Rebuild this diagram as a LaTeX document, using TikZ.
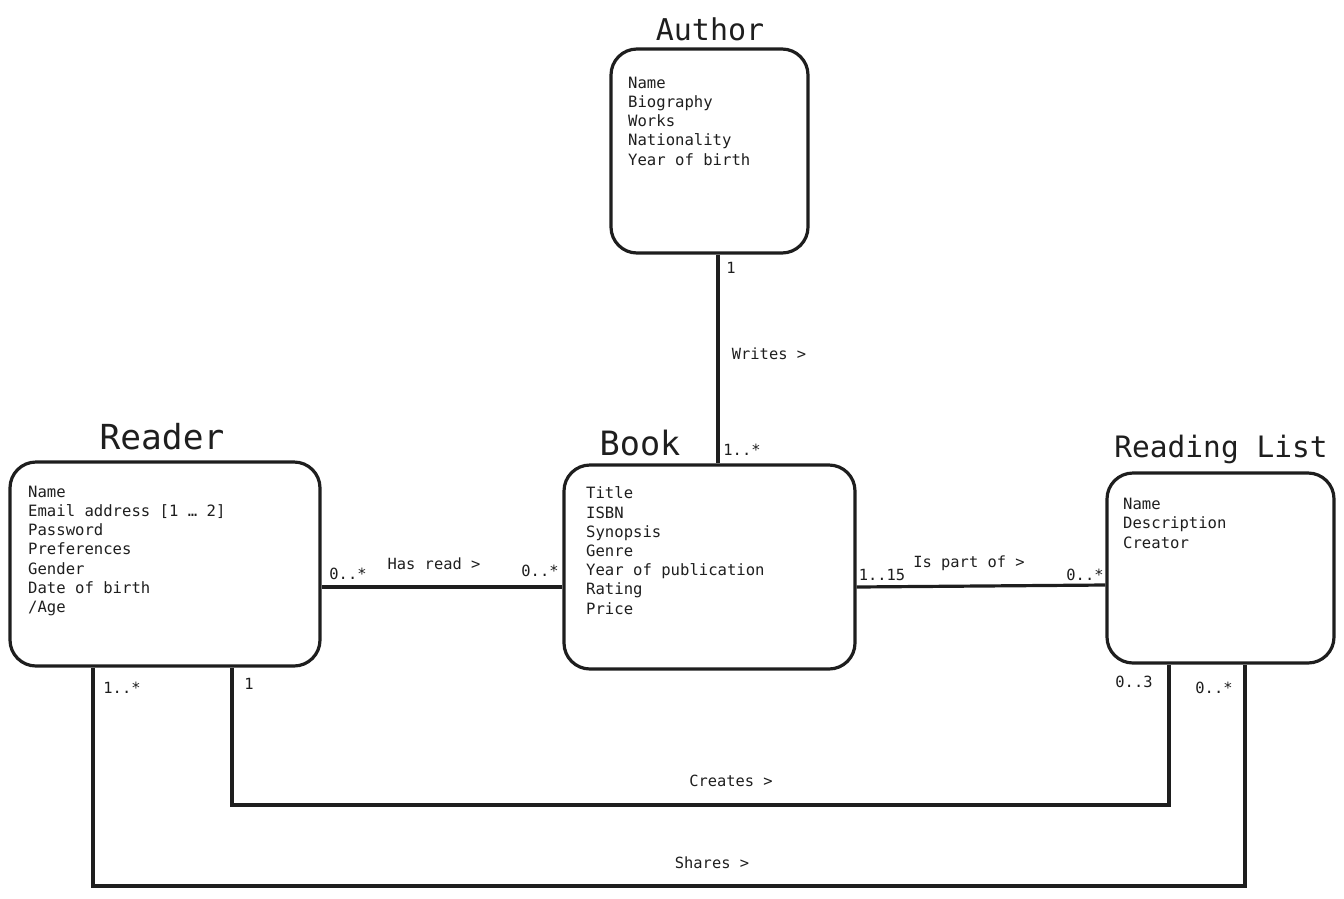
\documentclass[tikz,border=0pt]{standalone}
\usepackage{fontspec}
\setmainfont{DejaVu Sans Mono}
\definecolor{ink}{HTML}{1E1E1E}
\tikzset{
  entity/.style={draw=ink, line width=3.2pt, rounded corners=26pt, inner sep=0pt},
  title/.style={text=ink, inner sep=0pt, anchor=base},
  attrs/.style={text=ink, inner sep=0pt, anchor=base west, align=left, font=\fontsize{15.6}{19.2}\selectfont},
  lbl/.style={text=ink, inner sep=0pt, font=\fontsize{15.4}{18}\selectfont},
  conn/.style={draw=ink, line width=3.2pt}
}
\begin{document}
\begin{tikzpicture}[x=1pt,y=-1pt]
\useasboundingbox (0,0) rectangle (1344,898);
% entities
\node[entity, minimum width=197pt, minimum height=204pt] (author) at (709.5,151) {};
\node[entity, minimum width=310pt, minimum height=204pt] (reader) at (165,564) {};
\node[entity, minimum width=291pt, minimum height=204pt] (book) at (709.5,567) {};
\node[entity, minimum width=227pt, minimum height=190pt] (rl) at (1220.5,568) {};
% titles
\node[title, font=\fontsize{30}{34}\selectfont] (tauthor) at (710,40) {Author};
\node[title, font=\fontsize{34.5}{38}\selectfont] (treader) at (162,449) {Reader};
\node[title, font=\fontsize{33.5}{38}\selectfont] (tbook) at (640,455) {Book};
\node[title, font=\fontsize{29.5}{34}\selectfont] (trl) at (1221,457) {Reading List};
% attributes (anchored at the baseline of the last line)
\node[attrs] (aauthor) at (628,165) {Name\\Biography\\Works\\Nationality\\Year of birth};
\node[attrs] (areader) at (28,612.5) {Name\\Email address [1 … 2]\\Password\\Preferences\\Gender\\Date of birth\\/Age};
\node[attrs] (abook) at (586,614) {Title\\ISBN\\Synopsis\\Genre\\Year of publication\\Rating\\Price};
\node[attrs] (arl) at (1123,548) {Name\\Description\\Creator};
% helper coordinates
\coordinate (cy) at (0,805);
\coordinate (sy) at (0,886);
% connectors
\draw[conn] ([xshift=8.5pt]author.south) -- ([xshift=8.5pt]book.north);
\draw[conn] ([yshift=-23pt]reader.east) -- ([yshift=-20pt]book.west);
\draw[conn] ([yshift=-20pt]book.east) -- ([yshift=-17pt]rl.west);
\draw[conn] ([xshift=67pt]reader.south) -- ([xshift=67pt]reader.south |- cy) -| ([xshift=-51.5pt]rl.south);
\draw[conn] ([xshift=-72pt]reader.south) -- ([xshift=-72pt]reader.south |- sy) -| ([xshift=24.5pt]rl.south);
% labels
\node[lbl] (l1) at (731,268) {1};
\node[lbl] (lwrites) at (769,354) {Writes >};
\node[lbl] (l2) at (742,450) {1..*};
\node[lbl] (l3) at (348,574) {0..*};
\node[lbl] (lread) at (434,564) {Has read >};
\node[lbl] (l4) at (540,571) {0..*};
\node[lbl] (l5) at (882,575) {1..15};
\node[lbl] (lpart) at (969,563) {Is part of >};
\node[lbl] (l6) at (1085,575) {0..*};
\node[lbl] (l7) at (122,688) {1..*};
\node[lbl] (l8) at (249,684) {1};
\node[lbl] (l9) at (1134,682) {0..3};
\node[lbl] (l10) at (1214,688) {0..*};
\node[lbl] (lcreates) at (731,781) {Creates >};
\node[lbl] (lshares) at (712,863) {Shares >};
\end{tikzpicture}
\end{document}
